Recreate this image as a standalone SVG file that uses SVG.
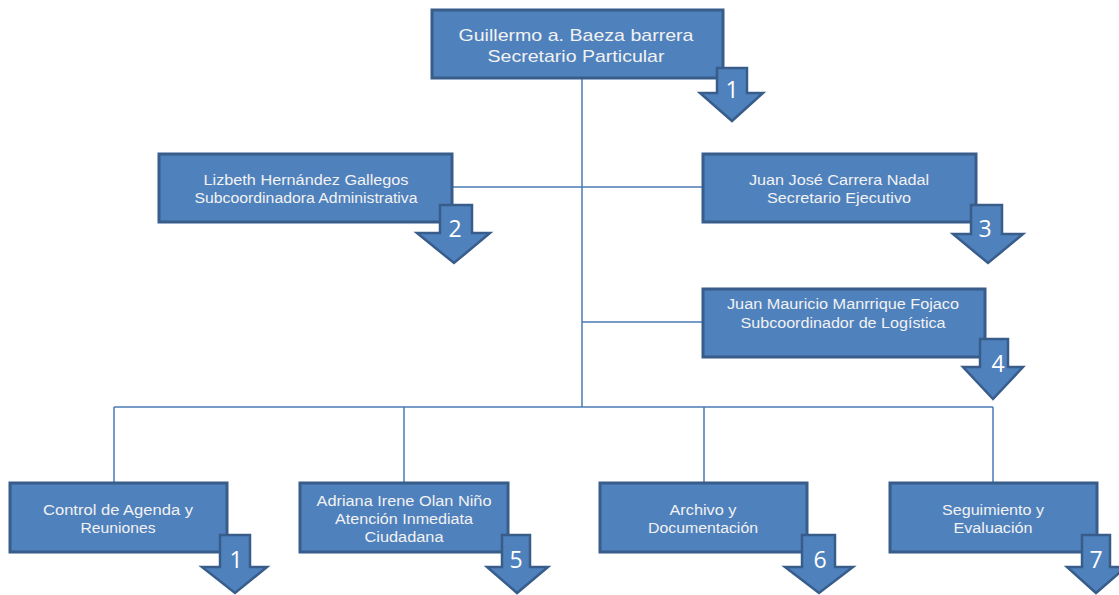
<svg xmlns="http://www.w3.org/2000/svg" width="1119" height="595" viewBox="0 0 1119 595">
  <style>
    .box { fill: #4f81bd; stroke: #385d8a; stroke-width: 3; }
    .arrow { fill: #4f81bd; stroke: #385d8a; stroke-width: 2.5; stroke-linejoin: miter; }
    .link { fill: none; stroke: #4a7ab4; stroke-width: 1.5; }
    .lbl { font-family: "Liberation Sans", Arial, sans-serif; font-size: 14px; fill: #f2f2f2; text-anchor: middle; }
    .big { font-size: 17px; }
    .num { font-family: "Open Sans", "Liberation Sans", Arial, sans-serif; font-size: 23px; fill: #ffffff; text-anchor: middle; }
  </style>

  <!-- connectors -->
  <g id="connectors">
    <line class="link" x1="582" y1="79" x2="582" y2="407"/>
    <line class="link" x1="452" y1="187" x2="703" y2="187"/>
    <line class="link" x1="582" y1="322" x2="703" y2="322"/>
    <line class="link" x1="114" y1="407" x2="993" y2="407"/>
    <line class="link" x1="114" y1="407" x2="114" y2="483"/>
    <line class="link" x1="404" y1="407" x2="404" y2="483"/>
    <line class="link" x1="704" y1="407" x2="704" y2="483"/>
    <line class="link" x1="993" y1="407" x2="993" y2="483"/>
  </g>

  <!-- Secretario Particular -->
  <g id="node-secretario-particular">
    <rect class="box" x="432" y="10" width="291" height="68"/>
    <text class="lbl big" x="576" y="41" textLength="235" lengthAdjust="spacingAndGlyphs">Guillermo a. Baeza barrera</text>
    <text class="lbl big" x="576" y="62" textLength="177" lengthAdjust="spacingAndGlyphs">Secretario Particular</text>
    <path class="arrow" d="M717,68 H747 V93 H763 L732,121 L700,93 H717 Z"/>
    <text class="num" x="732" y="98">1</text>
  </g>

  <!-- Subcoordinadora Administrativa -->
  <g id="node-subcoord-admin">
    <rect class="box" x="159" y="154" width="293" height="68"/>
    <text class="lbl" x="306" y="185" textLength="205" lengthAdjust="spacingAndGlyphs">Lizbeth Hernández Gallegos</text>
    <text class="lbl" x="306" y="203" textLength="223" lengthAdjust="spacingAndGlyphs">Subcoordinadora Administrativa</text>
    <path class="arrow" d="M440,205 H472 V233 H490 L454,263 L417,233 H440 Z"/>
    <text class="num" x="455" y="237">2</text>
  </g>

  <!-- Secretario Ejecutivo -->
  <g id="node-secretario-ejecutivo">
    <rect class="box" x="703" y="154" width="273" height="68"/>
    <text class="lbl" x="839" y="185" textLength="180" lengthAdjust="spacingAndGlyphs">Juan José Carrera Nadal</text>
    <text class="lbl" x="839" y="203" textLength="144" lengthAdjust="spacingAndGlyphs">Secretario Ejecutivo</text>
    <path class="arrow" d="M971,205 H1002 V234 H1023 L988,263 L953,234 H971 Z"/>
    <text class="num" x="985" y="237">3</text>
  </g>

  <!-- Subcoordinador de Logística -->
  <g id="node-subcoord-logistica">
    <rect class="box" x="703" y="289" width="282" height="68"/>
    <text class="lbl" x="843" y="309" textLength="232" lengthAdjust="spacingAndGlyphs">Juan Mauricio Manrrique Fojaco</text>
    <text class="lbl" x="843" y="328" textLength="205" lengthAdjust="spacingAndGlyphs">Subcoordinador de Logística</text>
    <path class="arrow" d="M980,339 H1008 V367 H1023 L993,399 L963,367 H980 Z"/>
    <text class="num" x="998" y="372">4</text>
  </g>

  <!-- Control de Agenda y Reuniones -->
  <g id="node-control-agenda">
    <rect class="box" x="10" y="483" width="217" height="69"/>
    <text class="lbl" x="118" y="515" textLength="150" lengthAdjust="spacingAndGlyphs">Control de Agenda y</text>
    <text class="lbl" x="118" y="533" textLength="75" lengthAdjust="spacingAndGlyphs">Reuniones</text>
    <path class="arrow" d="M220,535 H250 V567 H267 L235,593 L202,567 H220 Z"/>
    <text class="num" x="236" y="568">1</text>
  </g>

  <!-- Atención Inmediata Ciudadana -->
  <g id="node-atencion-ciudadana">
    <rect class="box" x="300" y="483" width="208" height="69"/>
    <text class="lbl" x="404" y="506" textLength="175" lengthAdjust="spacingAndGlyphs">Adriana Irene Olan Niño</text>
    <text class="lbl" x="404" y="524" textLength="138" lengthAdjust="spacingAndGlyphs">Atención Inmediata</text>
    <text class="lbl" x="404" y="542" textLength="79" lengthAdjust="spacingAndGlyphs">Ciudadana</text>
    <path class="arrow" d="M502,535 H530 V567 H548 L517,593 L487,567 H502 Z"/>
    <text class="num" x="516" y="568">5</text>
  </g>

  <!-- Archivo y Documentación -->
  <g id="node-archivo">
    <rect class="box" x="600" y="483" width="207" height="69"/>
    <text class="lbl" x="703" y="515" textLength="67" lengthAdjust="spacingAndGlyphs">Archivo y</text>
    <text class="lbl" x="703" y="533" textLength="110" lengthAdjust="spacingAndGlyphs">Documentación</text>
    <path class="arrow" d="M802,535 H835 V567 H853 L819,593 L785,567 H802 Z"/>
    <text class="num" x="820" y="568">6</text>
  </g>

  <!-- Seguimiento y Evaluación -->
  <g id="node-seguimiento">
    <rect class="box" x="890" y="483" width="207" height="69"/>
    <text class="lbl" x="993" y="515" textLength="102" lengthAdjust="spacingAndGlyphs">Seguimiento y</text>
    <text class="lbl" x="993" y="533" textLength="79" lengthAdjust="spacingAndGlyphs">Evaluación</text>
    <path class="arrow" d="M1082,535 H1110 V567 H1126 L1096,593 L1067,567 H1082 Z"/>
    <text class="num" x="1096" y="568">7</text>
  </g>
</svg>
